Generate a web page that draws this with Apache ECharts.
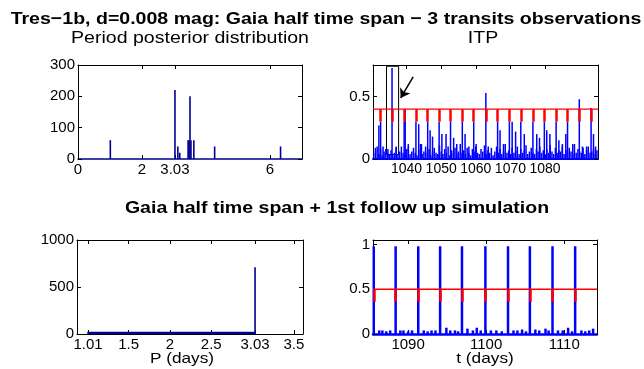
<!DOCTYPE html>
<html>
<head>
<meta charset="UTF-8" />
<title>Tres-1b ITP</title>
<script src="https://cdn.jsdelivr.net/npm/echarts@6.0.0/dist/echarts.min.js"></script>
</head>
<body style="margin:0">
<div id="main" style="width:644px;height:369px"></div>
<script>
// top-left: period posterior (Gaia half span)
const postP = [1.01, 3.03, 3.12, 3.18, 3.44, 3.47, 3.50, 3.53, 3.62, 4.27, 6.33];
const postCount = [60, 220, 40, 20, 60, 60, 200, 60, 60, 40, 40];

// top-right: ITP, noise on a 0.5 day grid + spikes + transit peaks
const itpStart = 1030.5, itpStep = 0.5;
const itpNoise = [
  0.05,0.09,0.1,0.04,0.08,0.03,0.06,0.08,0.05,0.04,
  0.07,0.03,0.05,0.09,0.04,0.06,0.1,0.05,0.03,0.08,
  0.12,0.04,0.06,0.09,0.05,0.03,0.07,0.12,0.04,0.06,
  0.1,0.05,0.08,0.03,0.06,0.09,0.05,0.04,0.11,0.06,
  0.04,0.08,0.05,0.1,0.03,0.07,0.05,0.09,0.04,0.06,
  0.12,0.05,0.07,0.04,0.09,0.05,0.03,0.08,0.06,0.1,
  0.05,0.04,0.08,0.06,0.11,0.04,0.07,0.05,0.09,0.03,
  0.06,0.1,0.05,0.08,0.04,0.06,0.12,0.05,0.07,0.04,
  0.09,0.05,0.06,0.1,0.04,0.08,0.05,0.07,0.11,0.04,
  0.06,0.09,0.05,0.04,0.08,0.06,0.1,0.05,0.07,0.04,
  0.08,0.05,0.11,0.06,0.04,0.09,0.05,0.07,0.06,0.1,
  0.04,0.07,0.05,0.09,0.06,0.04,0.12,0.05,0.08,0.06,
  0.05,0.09,0.04,0.07,0.1,0.05,0.06,0.08,0.04,0.07
];
const itpSpikeT = [1032.0,1033.2,1034.6,1037.0,1039.6,1040.5,1043.5,1044.3,1046.8,1047.5,1050.2,1051.4,1053.6,1054.5,1056.9,1058.0,1060.1,1063.6,1067.0,1068.0,1070.5,1071.5,1074.0,1077.6,1078.4,1080.5,1081.4,1084.0,1085.0,1086.0,1088.0,1090.8,1092.0,1094.0,1094.6];
const itpSpikeV = [0.27,0.1,0.08,0.1,0.4,0.1,0.28,0.12,0.23,0.18,0.2,0.2,0.17,0.12,0.2,0.1,0.12,0.1,0.23,0.12,0.3,0.22,0.2,0.2,0.17,0.23,0.2,0.15,0.12,0.2,0.12,0.1,0.1,0.2,0.1];
const itpTransitT = [1032.5,1035.8,1039.3,1042.7,1046.1,1049.4,1052.7,1056.1,1059.4,1062.9,1066.3,1069.7,1073.0,1076.5,1079.8,1083.2,1086.5,1089.9,1093.3];
const itpTransitV = [0.3,0.73,0.3,0.3,0.3,0.3,0.3,0.3,0.3,0.53,0.3,0.3,0.3,0.3,0.3,0.3,0.3,0.48,0.41];
const itpThreshold = 0.4, itpDipLow = 0.3;

// bottom-left: period posterior after follow-up
const fuP = [1.01, 3.03];
const fuCount = [25, 710];
const fuBandP = [1.01, 3.03];
const fuBandCount = [10, 10];

// bottom-right: ITP after follow-up
const fuTransitT = [1085.6,1088.4,1091.3,1094.1,1096.9,1099.9,1102.8,1105.6,1108.5,1111.4];
const fuTransitV = [0.98,0.98,0.98,0.98,0.98,0.98,0.98,0.98,0.98,0.98];
const fuNoiseT = [1086.3,1086.7,1087.2,1087.7,1089.0,1089.4,1090.0,1090.5,1092.0,1092.5,1093.0,1093.5,1094.9,1095.4,1096.0,1096.4,1097.6,1098.3,1098.8,1099.3,1100.6,1101.3,1102.0,1103.5,1104.0,1104.6,1105.1,1106.3,1106.8,1107.6,1108.0,1109.2,1109.8,1110.5,1111.0,1112.2,1112.7,1113.2,1113.7];
const fuNoiseV = [0.04,0.04,0.03,0.04,0.04,0.04,0.03,0.04,0.04,0.03,0.04,0.04,0.07,0.04,0.04,0.03,0.06,0.04,0.07,0.04,0.04,0.04,0.03,0.04,0.04,0.05,0.03,0.05,0.04,0.06,0.04,0.04,0.04,0.07,0.03,0.04,0.03,0.04,0.06];
const fuThreshold = 0.5, fuDipLow = 0.36;

const FONT = 'Liberation Sans';
const NAVY = '#00008f', BLUE = '#0000ff', RED = '#ff0000';
const STRETCH = 1.15; // the original figure text is a bit wider than it is tall

function pairs(xs, ys) { return xs.map((x, i) => [x, ys[i]]); }

function axisPair(gi, min, max, ticks, isX, lineColor, lineWidth, fontSize) {
  const fmt = v => String(v);
  const main = {
    type: 'value', gridIndex: gi, min: min, max: max,
    position: isX ? 'bottom' : 'left',
    axisLine: { onZero: false, lineStyle: { color: lineColor || '#000', width: lineWidth || 1 } },
    axisTick: { inside: true, length: 4, customValues: ticks, lineStyle: { color: '#000' } },
    axisLabel: { customValues: ticks, formatter: fmt, margin: 3, color: '#000', fontSize: fontSize || 15, fontFamily: FONT },
    splitLine: { show: false }
  };
  const other = {
    type: 'value', gridIndex: gi, min: min, max: max,
    position: isX ? 'top' : 'right',
    axisLine: { onZero: false, lineStyle: { color: '#000', width: 1 } },
    axisTick: { inside: true, length: 4, customValues: ticks, lineStyle: { color: '#000' } },
    axisLabel: { show: false },
    splitLine: { show: false }
  };
  return [main, other];
}

function dipLines(ts, hi, lo) {
  return ts.map(t => [{ coord: [t, hi] }, { coord: [t, lo] }]);
}

function label(text, x, y, font) {
  return { type: 'text', x: x, y: y, scaleX: STRETCH,
    style: { text: text, font: font, fill: '#000', align: 'center', verticalAlign: 'middle' } };
}

const itpData = itpNoise.map((v, i) => [itpStart + i * itpStep, v])
  .concat(pairs(itpSpikeT, itpSpikeV))
  .concat(pairs(itpTransitT, itpTransitV));
const fuItpData = pairs(fuNoiseT, fuNoiseV).concat(pairs(fuTransitT, fuTransitV));

const xAxes = [].concat(
  axisPair(0, 0, 7, [0, 2, 3.03, 6], true, NAVY, 1.5),
  axisPair(1, 1030.3, 1095.3, [1040, 1050, 1060, 1070, 1080], true, BLUE, 2, 14),
  axisPair(2, 0.876, 3.61, [1.01, 1.5, 2, 2.5, 3.03, 3.5], true),
  axisPair(3, 1085.5, 1114.2, [1090, 1100, 1110], true, BLUE, 2.5)
);
const yAxes = [].concat(
  axisPair(0, 0, 300, [0, 100, 200, 300], false),
  axisPair(1, 0, 0.755, [0, 0.5], false),
  axisPair(2, 0, 1000, [0, 500, 1000], false),
  axisPair(3, 0, 1.05, [0, 0.5, 1], false)
);

const chart = echarts.init(document.getElementById('main'));
chart.setOption({
  animation: false,
  backgroundColor: '#fff',
  grid: [
    { left: 78, top: 65, width: 224, height: 94 },
    { left: 373, top: 65, width: 225, height: 94 },
    { left: 77, top: 240, width: 226, height: 94 },
    { left: 373, top: 240, width: 224, height: 94 }
  ],
  xAxis: xAxes,
  yAxis: yAxes,
  series: [
    { type: 'bar', xAxisIndex: 0, yAxisIndex: 0, barWidth: 1.6, itemStyle: { color: NAVY },
      data: pairs(postP, postCount) },

    { type: 'bar', xAxisIndex: 2, yAxisIndex: 2, barWidth: 1.5, itemStyle: { color: BLUE },
      data: itpData },
    { type: 'line', xAxisIndex: 2, yAxisIndex: 2, symbol: 'none',
      lineStyle: { color: RED, width: 1.2 },
      data: [[1030.3, itpThreshold], [1095.3, itpThreshold]],
      markLine: { silent: true, symbol: ['none', 'none'], label: { show: false },
        lineStyle: { color: RED, width: 2.5, type: 'solid' },
        data: dipLines(itpTransitT, itpThreshold, itpDipLow) } },
    { type: 'line', xAxisIndex: 2, yAxisIndex: 2, symbol: 'none', data: [],
      markArea: { silent: true, itemStyle: { color: 'rgba(0,0,0,0)', borderColor: '#000', borderWidth: 1 },
        data: [[{ coord: [1034.2, 0.035] }, { coord: [1037.7, 0.745] }]] },
      markLine: { silent: true, symbol: ['none', 'arrow'], symbolSize: 9, label: { show: false },
        lineStyle: { color: '#000', width: 1.5, type: 'solid' },
        data: [[{ coord: [1041.9, 0.66] }, { coord: [1038.3, 0.49] }]] } },

    { type: 'bar', xAxisIndex: 4, yAxisIndex: 4, barWidth: 1.6, itemStyle: { color: NAVY },
      data: pairs(fuP, fuCount) },
    { type: 'line', xAxisIndex: 4, yAxisIndex: 4, symbol: 'none',
      lineStyle: { color: NAVY, width: 2.5 }, data: pairs(fuBandP, fuBandCount) },

    { type: 'bar', xAxisIndex: 6, yAxisIndex: 6, barWidth: 2.5, itemStyle: { color: BLUE },
      data: fuItpData },
    { type: 'line', xAxisIndex: 6, yAxisIndex: 6, symbol: 'none',
      lineStyle: { color: RED, width: 1.5 },
      data: [[1085.5, fuThreshold], [1114.2, fuThreshold]],
      markLine: { silent: true, symbol: ['none', 'none'], label: { show: false },
        lineStyle: { color: RED, width: 2.5, type: 'solid' },
        data: dipLines(fuTransitT, fuThreshold, fuDipLow) } }
  ],
  graphic: [
    label('Tres\u22121b, d=0.008 mag: Gaia half time span \u2212 3 transits observations', 326, 19, 'bold 17px ' + FONT),
    label('Period posterior distribution', 190, 38, '17px ' + FONT),
    label('ITP', 483, 38, '17px ' + FONT),
    label('Gaia half time span + 1st follow up simulation', 337, 208, 'bold 17px ' + FONT),
    label('P (days)', 182, 359, '15px ' + FONT),
    label('t (days)', 485, 359, '15px ' + FONT)
  ]
});
</script>
</body>
</html>
